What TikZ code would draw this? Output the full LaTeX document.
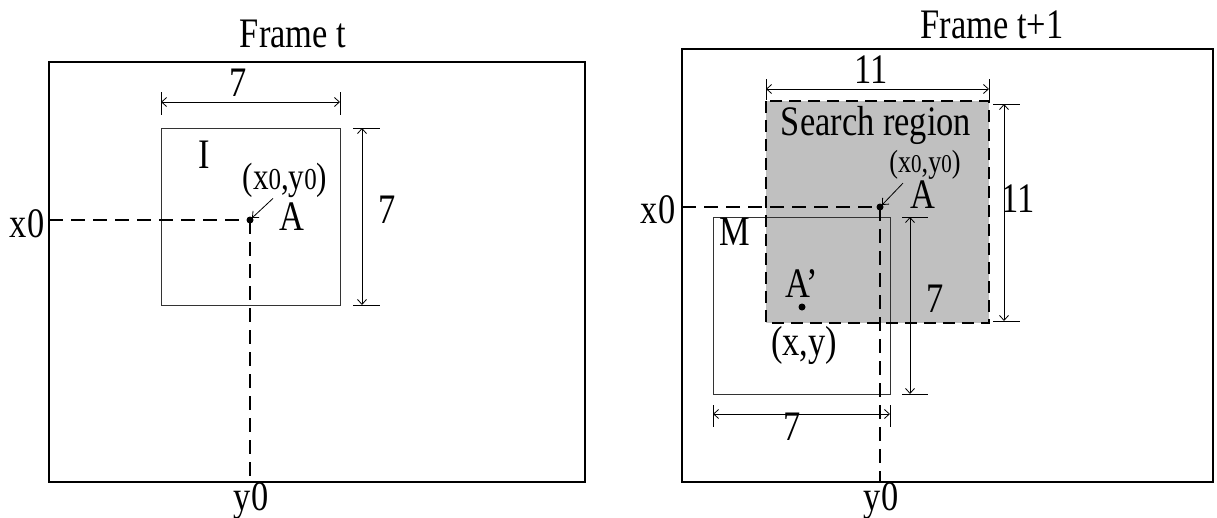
\documentclass[tikz,border=0pt]{standalone}
\usepackage{fontspec}
\setmainfont{Liberation Serif}[FakeStretch=0.82]
\usetikzlibrary{arrows.meta}
\definecolor{regiongray}{RGB}{192,192,192}
\newcommand{\szero}{\scalebox{0.8}{0}}
\tikzset{
	guide/.style={line width=2.8pt, dash pattern=on 14pt off 8pt},
	regionline/.style={line width=2.8pt, dash pattern=on 12pt off 7pt},
	framebox/.style={line width=1.3pt},
	winbox/.style={line width=1pt, draw=black!80},
	dim/.style={line width=0.8pt, <->},
	ext/.style={line width=0.9pt},
	lbl/.style={inner sep=0pt, anchor=base, font=\fontsize{42}{46}\selectfont},
	mid/.style={inner sep=0pt, anchor=base, font=\fontsize{38}{42}\selectfont},
	tiny/.style={inner sep=0pt, anchor=base, font=\fontsize{32}{36}\selectfont},
}
\begin{document}
\begin{tikzpicture}[x=1pt, y=-1pt, >={Straight Barb[length=5pt,width=9pt]}, line join=miter]
	\useasboundingbox (0,0) rectangle (1217,517);
	% Frame t
	\draw[framebox] (49,62) rectangle (585,482);
	\draw[winbox] (161,128) rectangle (340,305);
	\coordinate (A) at (250,220);
	\coordinate (Aleft) at (49,220);
	\coordinate (Adown) at (250,482);
	\draw[guide] (Aleft) -- (A);
	\draw[guide] (A) -- (Adown);
	\fill (A) circle (3.5pt);
	\draw[ext] (161,92)--(161,115) (340,92)--(340,115);
	\draw[dim] (161,102)--(340,102);
	\draw[ext] (353,128)--(380,128) (353,305)--(380,305);
	\draw[dim] (362,128)--(362,305);
	\node[lbl] (titleL) at (293,47) {Frame t};
	\node[lbl] (wL) at (238,96) {7};
	\node[lbl] (hL) at (387,223) {7};
	\node[lbl] (boxI) at (204,168) {I};
	\node[mid] (posA) at (285,189) {(x\szero,y\szero)};
	\node[lbl] (labA) at (292,230) {A};
	\node[lbl] (xL) at (27,237) {x0};
	\node[lbl] (yL) at (251,510) {y0};
	\draw[->, line width=0.8pt] ([xshift=-12pt, yshift=-1pt]posA.south) -- ([shift={(2,-2)}]A);
	% Frame t+1
	\draw[framebox] (682,49) rectangle (1213,482);
	\fill[regiongray] (766,101) rectangle (989,323);
	\draw[winbox] (713,217) rectangle (890,394);
	\draw[regionline] (766,101) rectangle (989,323);
	\coordinate (B) at (880,207);
	\coordinate (Bleft) at (682,207);
	\coordinate (Bdown) at (880,482);
	\coordinate (Bmatch) at (802,307);
	\draw[guide] (Bleft) -- (B);
	\draw[guide] (B) -- (Bdown);
	\fill (B) circle (3.5pt);
	\fill (Bmatch) circle (3.5pt);
	\draw[ext] (766,79)--(766,100) (989,79)--(989,100);
	\draw[dim] (766,89)--(989,89);
	\draw[ext] (993,104)--(1020,104) (993,321)--(1020,321);
	\draw[dim] (1004,104)--(1004,321);
	\draw[ext] (902,217)--(928,217) (902,394)--(928,394);
	\draw[dim] (910,217)--(910,394);
	\draw[ext] (713,405)--(713,427) (890,405)--(890,427);
	\draw[dim] (713,414)--(890,414);
	\node[lbl] (titleR) at (992,38) {Frame t+1};
	\node[lbl] (wR) at (871,83) {11};
	\node[lbl] (hR) at (1018,212) {11};
	\node[lbl] (region) at (876,135) {Search region};
	\node[tiny] (posB) at (925,172) {(x\szero,y\szero)};
	\node[lbl] (labB) at (923,208) {A};
	\node[lbl] (xR) at (658,223) {x0};
	\node[lbl] (yR) at (881,510) {y0};
	\node[lbl] (boxM) at (735,245) {M};
	\node[lbl] (labM) at (802,297) {A’};
	\node[lbl] (hM) at (935,312) {7};
	\node[lbl] (posM) at (804,355) {(x,y)};
	\node[lbl] (wM) at (792,440) {7};
	\draw[->, line width=0.8pt] ([shift={(-22,4)}]posB.south) -- ([shift={(2,-2)}]B);
\end{tikzpicture}
\end{document}
